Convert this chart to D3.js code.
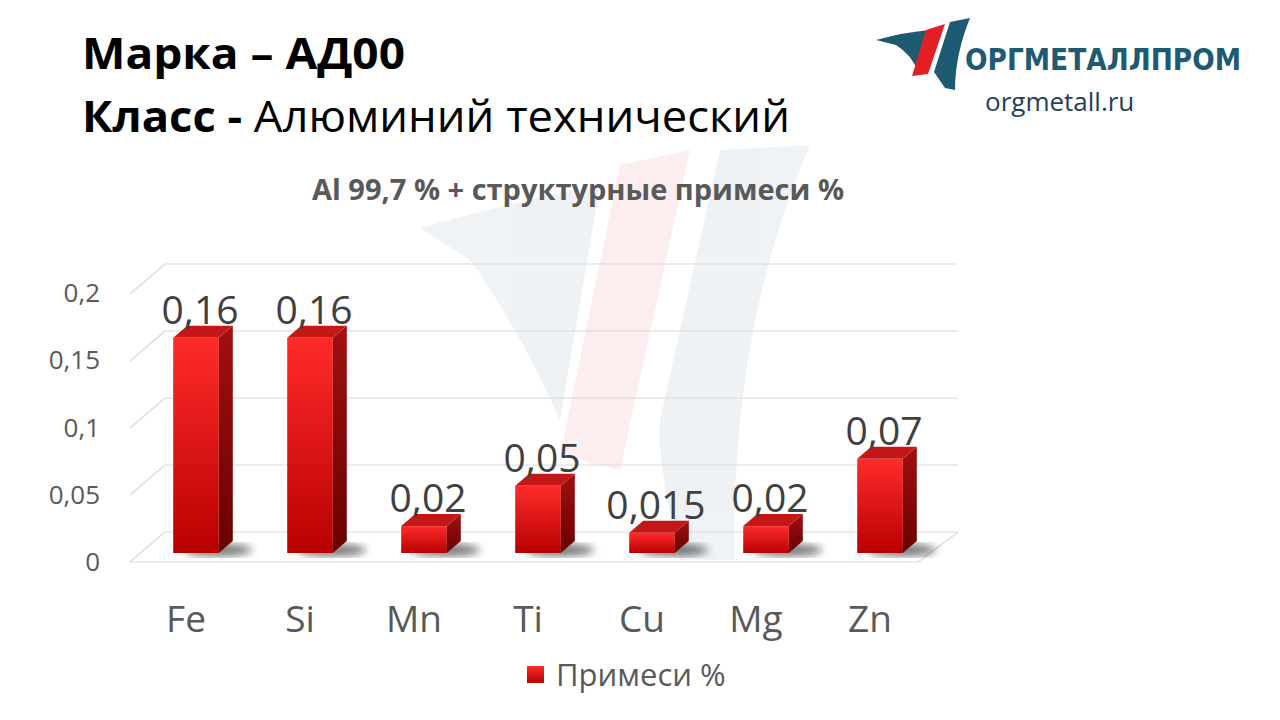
<!DOCTYPE html>
<html><head><meta charset="utf-8">
<script src="https://cdn.jsdelivr.net/npm/d3@7"></script>
<style>body{margin:0;background:#fff}svg{display:block;font-family:"Open Sans",sans-serif}</style>
</head><body><svg id="c" width="1280" height="720"></svg>
<script>
const categories = ["Fe", "Si", "Mn", "Ti", "Cu", "Mg", "Zn"];
const values = [0.16, 0.16, 0.02, 0.05, 0.015, 0.02, 0.07];
const labels = ["0,16", "0,16", "0,02", "0,05", "0,015", "0,02", "0,07"];
const ticks = [0, 0.05, 0.1, 0.15, 0.2];
const tickLabels = ["0", "0,05", "0,1", "0,15", "0,2"];

const svg = d3.select("#c");
const defs = svg.append("defs");
const g1 = defs.append("linearGradient").attr("id", "front").attr("x1", 0).attr("y1", 0).attr("x2", 0).attr("y2", 1);
g1.append("stop").attr("offset", 0).attr("stop-color", "#ff2b2b");
g1.append("stop").attr("offset", 1).attr("stop-color", "#b80000");
const g2 = defs.append("linearGradient").attr("id", "side").attr("x1", 0).attr("y1", 0).attr("x2", 0).attr("y2", 1);
g2.append("stop").attr("offset", 0).attr("stop-color", "#a11010");
g2.append("stop").attr("offset", 1).attr("stop-color", "#6a0000");
defs.append("filter").attr("id", "blur").append("feGaussianBlur").attr("stdDeviation", 4);

// faint watermark
const wm = svg.append("g").attr("opacity", 0.07);
wm.append("path").attr("d", "M420,228 Q520,200 600,185 L560,420 Q520,330 470,260 Z").attr("fill", "#1f5a73");
wm.append("path").attr("d", "M620,165 L690,150 L620,470 L560,455 Z").attr("fill", "#e02020");
wm.append("path").attr("d", "M720,150 L810,145 Q730,330 735,560 L680,560 Q655,450 660,420 Z").attr("fill", "#1f5a73");

const x = d3.scaleBand().domain(categories).range([139, 937]).paddingInner(0.6).paddingOuter(0.3);
const yBar = d3.scaleLinear().domain([0, 0.2]).range([553, 284]);
const yBack = d3.scaleLinear().domain([0, 0.2]).range([532, 264]);
const yAxis = d3.scaleLinear().domain([0, 0.2]).range([562, 293]);
const dx = 35, dy = 30;

const grid = svg.append("g").attr("stroke", "#d9d9d9").attr("stroke-width", 1.2).attr("fill", "none");
ticks.forEach(t => {
  grid.append("line").attr("x1", 165).attr("x2", 958).attr("y1", yBack(t)).attr("y2", yBack(t));
  grid.append("line").attr("x1", 165 - dx).attr("x2", 165).attr("y1", yBack(t) + dy).attr("y2", yBack(t));
});
grid.append("line").attr("x1", 130).attr("x2", 918).attr("y1", 562).attr("y2", 562);
grid.append("line").attr("x1", 918).attr("x2", 958).attr("y1", 562).attr("y2", 532);

svg.append("g").selectAll("text").data(ticks).join("text")
  .attr("x", 100).attr("y", d => yAxis(d)).attr("text-anchor", "end").attr("dy", "0.35em")
  .attr("font-size", 26).attr("fill", "#595959").text((d, i) => tickLabels[i]);

const bw = x.bandwidth(), sx = 14, sy = 12;
const bars = svg.append("g").selectAll("g").data(categories).join("g");
bars.append("ellipse").attr("cx", d => x(d) + bw / 2 + 22).attr("cy", 550).attr("rx", bw * 0.75).attr("ry", 6)
  .attr("fill", "#000").attr("opacity", 0.55).attr("filter", "url(#blur)");
bars.append("rect").attr("x", d => x(d)).attr("width", bw)
  .attr("y", (d, i) => yBar(values[i])).attr("height", (d, i) => 553 - yBar(values[i])).attr("fill", "url(#front)");
bars.append("path").attr("fill", "url(#side)").attr("d", (d, i) => {
  const l = x(d) + bw, t = yBar(values[i]);
  return `M${l},${t} L${l + sx},${t - sy} L${l + sx},${553 - sy} L${l},553 Z`;
});
bars.append("path").attr("fill", "#c41818").attr("d", (d, i) => {
  const l = x(d), t = yBar(values[i]);
  return `M${l},${t} L${l + sx},${t - sy} L${l + bw + sx},${t - sy} L${l + bw},${t} Z`;
});
bars.append("text").attr("x", d => x(d) + bw / 2 + 4).attr("y", (d, i) => yBar(values[i]) - 14)
  .attr("text-anchor", "middle").attr("font-size", 39).attr("fill", "#404040").text((d, i) => labels[i]);
bars.append("text").attr("x", d => x(d) + bw / 2 - 10).attr("y", 632)
  .attr("text-anchor", "middle").attr("font-size", 37).attr("fill", "#595959").text(d => d);

svg.append("text").attr("x", 578).attr("y", 200).attr("text-anchor", "middle").attr("font-size", 29)
  .attr("font-weight", "bold").attr("fill", "#595959").text("Al 99,7 % + структурные примеси %");

svg.append("rect").attr("x", 527).attr("y", 666).attr("width", 17).attr("height", 17).attr("fill", "url(#front)");
svg.append("text").attr("x", 556).attr("y", 686).attr("font-size", 31).attr("fill", "#595959").text("Примеси %");

const h = svg.append("g").attr("font-size", 43).attr("fill", "#000");
h.append("text").attr("x", 82).attr("y", 69).attr("font-weight", "bold")
  .attr("textLength", 323).attr("lengthAdjust", "spacingAndGlyphs").text("Марка – АД00");
const t2 = h.append("text").attr("x", 82).attr("y", 132)
  .attr("textLength", 708).attr("lengthAdjust", "spacingAndGlyphs");
t2.append("tspan").attr("font-weight", "bold").text("Класс - ");
t2.append("tspan").text("Алюминий технический");

const lg = svg.append("g");
lg.append("path").attr("d", "M876,40 Q905,32 930,30 L918,72 Q912,55 896,45 Z").attr("fill", "#1f5a73");
lg.append("path").attr("d", "M926,30 L945,24 L928,74 L912,76 Z").attr("fill", "#e31e24");
lg.append("path").attr("d", "M950,22 L970,18 Q955,55 955,90 L945,88 L934,72 Z").attr("fill", "#1f5a73");
lg.append("text").attr("x", 965).attr("y", 70).attr("font-size", 30).attr("font-weight", "bold")
  .attr("font-family", "'DejaVu Sans',sans-serif").attr("fill", "#1f5a73")
  .attr("textLength", 276).attr("lengthAdjust", "spacingAndGlyphs").text("ОРГМЕТАЛЛПРОМ");
lg.append("text").attr("x", 985).attr("y", 111).attr("font-size", 26).attr("fill", "#1f3f5a")
  .text("orgmetall.ru");
</script></body></html>
